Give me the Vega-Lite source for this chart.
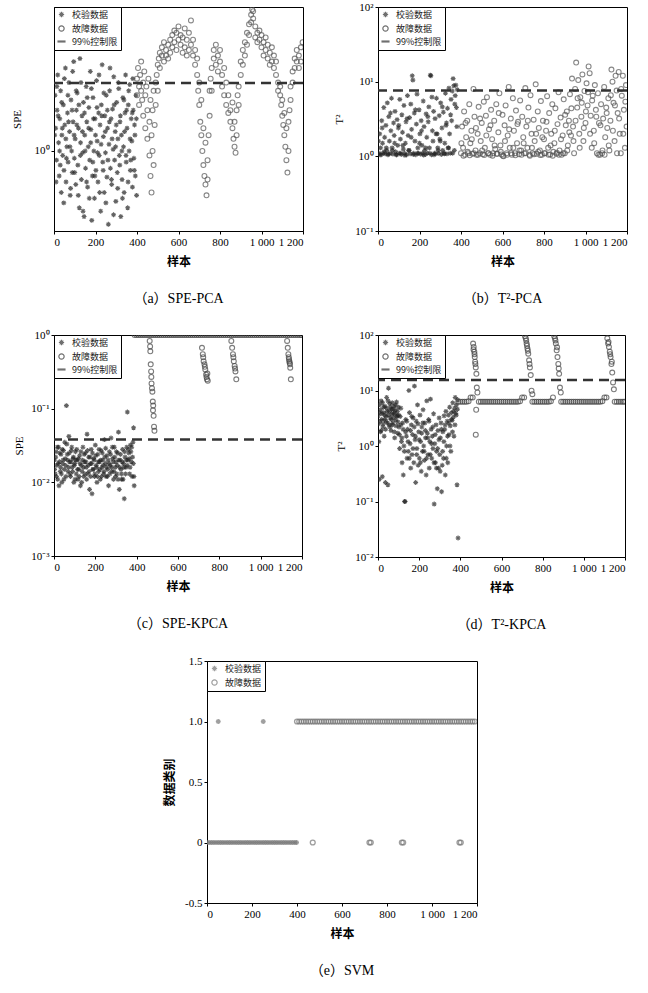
{
"$schema":"https://vega.github.io/schema/vega-lite/v6.json",
"background":"white",
"padding":{"left":10,"top":0,"right":4,"bottom":4},
"config":{
 "view":{"stroke":"black","strokeWidth":1},
 "axis":{"grid":false,"domainColor":"black","tickColor":"black","labelColor":"black","titleColor":"black","labelFont":"Liberation Serif","labelFontSize":11,"tickSize":3,"labelPadding":2,"titleFont":"Noto Sans CJK SC","titleFontSize":12,"titleFontWeight":"bold","titlePadding":9},
 "legend":{"orient":"top-left","offset":0,"padding":3,"strokeColor":"black","fillColor":"white","labelFont":"Noto Sans CJK SC","labelFontSize":9,"labelColor":"#222","symbolSize":28,"symbolStrokeColor":"#333","symbolFillColor":"transparent","symbolStrokeWidth":1.2,"rowPadding":3,"labelOffset":6},
 "title":{"font":"Liberation Serif, Noto Sans CJK SC","fontSize":14,"fontWeight":"normal","orient":"bottom","offset":25,"color":"black"}
},
"datasets":{
"a":[
{"x":5,"y":1.9,"s":"v"},{"x":8,"y":1.3,"s":"v"},{"x":12,"y":0.9,"s":"v"},{"x":15,"y":1.6,"s":"v"},{"x":18,"y":2.4,"s":"v"},{"x":22,"y":1.1,"s":"v"},{"x":25,"y":0.75,"s":"v"},{"x":28,"y":1.45,"s":"v"},{"x":32,"y":2.0,"s":"v"},{"x":35,"y":0.62,"s":"v"},{"x":38,"y":1.2,"s":"v"},{"x":42,"y":0.95,"s":"v"},{"x":45,"y":1.7,"s":"v"},{"x":48,"y":0.8,"s":"v"},{"x":52,"y":1.35,"s":"v"},{"x":55,"y":2.6,"s":"v"},{"x":58,"y":0.7,"s":"v"},{"x":62,"y":1.05,"s":"v"},{"x":65,"y":1.55,"s":"v"},{"x":68,"y":0.88,"s":"v"},{"x":72,"y":2.2,"s":"v"},{"x":75,"y":1.25,"s":"v"},{"x":78,"y":0.6,"s":"v"},{"x":82,"y":1.8,"s":"v"},{"x":85,"y":1.0,"s":"v"},{"x":88,"y":0.78,"s":"v"},{"x":92,"y":1.4,"s":"v"},{"x":95,"y":2.8,"s":"v"},{"x":98,"y":0.92,"s":"v"},{"x":102,"y":1.15,"s":"v"},{"x":105,"y":0.68,"s":"v"},{"x":108,"y":1.6,"s":"v"},{"x":112,"y":1.95,"s":"v"},{"x":115,"y":0.85,"s":"v"},{"x":118,"y":1.3,"s":"v"},{"x":122,"y":0.52,"s":"v"},{"x":125,"y":2.9,"s":"v"},{"x":128,"y":1.1,"s":"v"},{"x":132,"y":0.72,"s":"v"},{"x":135,"y":1.5,"s":"v"},{"x":138,"y":0.98,"s":"v"},{"x":142,"y":1.75,"s":"v"},{"x":145,"y":0.47,"s":"v"},{"x":148,"y":1.2,"s":"v"},{"x":152,"y":0.82,"s":"v"},{"x":155,"y":2.1,"s":"v"},{"x":158,"y":1.4,"s":"v"},{"x":162,"y":0.66,"s":"v"},{"x":165,"y":1.05,"s":"v"},{"x":168,"y":1.65,"s":"v"},{"x":172,"y":0.9,"s":"v"},{"x":175,"y":2.5,"s":"v"},{"x":178,"y":1.28,"s":"v"},{"x":182,"y":0.45,"s":"v"},{"x":185,"y":0.75,"s":"v"},{"x":188,"y":1.85,"s":"v"},{"x":192,"y":1.0,"s":"v"},{"x":195,"y":0.58,"s":"v"},{"x":198,"y":1.45,"s":"v"},{"x":202,"y":0.8,"s":"v"},{"x":205,"y":2.25,"s":"v"},{"x":208,"y":1.12,"s":"v"},{"x":212,"y":0.7,"s":"v"},{"x":215,"y":1.55,"s":"v"},{"x":218,"y":0.95,"s":"v"},{"x":222,"y":1.35,"s":"v"},{"x":225,"y":0.5,"s":"v"},{"x":228,"y":1.7,"s":"v"},{"x":232,"y":2.7,"s":"v"},{"x":235,"y":0.88,"s":"v"},{"x":238,"y":1.18,"s":"v"},{"x":242,"y":0.62,"s":"v"},{"x":245,"y":1.5,"s":"v"},{"x":248,"y":0.98,"s":"v"},{"x":252,"y":1.9,"s":"v"},{"x":255,"y":0.74,"s":"v"},{"x":258,"y":1.3,"s":"v"},{"x":262,"y":0.43,"s":"v"},{"x":265,"y":1.08,"s":"v"},{"x":268,"y":2.0,"s":"v"},{"x":272,"y":0.82,"s":"v"},{"x":275,"y":1.45,"s":"v"},{"x":278,"y":0.68,"s":"v"},{"x":282,"y":1.62,"s":"v"},{"x":285,"y":1.02,"s":"v"},{"x":288,"y":2.35,"s":"v"},{"x":292,"y":0.9,"s":"v"},{"x":295,"y":1.25,"s":"v"},{"x":298,"y":0.56,"s":"v"},{"x":302,"y":1.75,"s":"v"},{"x":305,"y":0.78,"s":"v"},{"x":308,"y":1.15,"s":"v"},{"x":312,"y":2.05,"s":"v"},{"x":315,"y":0.95,"s":"v"},{"x":318,"y":1.4,"s":"v"},{"x":322,"y":0.47,"s":"v"},{"x":325,"y":1.2,"s":"v"},{"x":328,"y":0.72,"s":"v"},{"x":332,"y":1.85,"s":"v"},{"x":335,"y":1.05,"s":"v"},{"x":338,"y":0.62,"s":"v"},{"x":342,"y":1.55,"s":"v"},{"x":345,"y":2.4,"s":"v"},{"x":348,"y":0.88,"s":"v"},{"x":352,"y":1.3,"s":"v"},{"x":355,"y":0.52,"s":"v"},{"x":358,"y":1.7,"s":"v"},{"x":362,"y":1.0,"s":"v"},{"x":365,"y":2.15,"s":"v"},{"x":368,"y":0.8,"s":"v"},{"x":372,"y":1.45,"s":"v"},{"x":375,"y":1.12,"s":"v"},{"x":378,"y":0.66,"s":"v"},{"x":382,"y":1.6,"s":"v"},{"x":385,"y":0.92,"s":"v"},{"x":388,"y":1.35,"s":"v"},{"x":392,"y":0.75,"s":"v"},{"x":395,"y":1.9,"s":"v"},{"x":398,"y":0.6,"s":"v"},
{"x":3,"y":1.2,"s":"v"},{"x":10,"y":0.7,"s":"v"},{"x":14,"y":2.1,"s":"v"},{"x":20,"y":1.5,"s":"v"},{"x":27,"y":1.0,"s":"v"},{"x":30,"y":0.85,"s":"v"},{"x":37,"y":1.75,"s":"v"},{"x":40,"y":1.3,"s":"v"},{"x":47,"y":0.55,"s":"v"},{"x":50,"y":2.3,"s":"v"},{"x":57,"y":1.15,"s":"v"},{"x":60,"y":0.92,"s":"v"},{"x":67,"y":1.9,"s":"v"},{"x":70,"y":1.4,"s":"v"},{"x":77,"y":1.05,"s":"v"},{"x":80,"y":0.65,"s":"v"},{"x":87,"y":1.6,"s":"v"},{"x":90,"y":2.5,"s":"v"},{"x":97,"y":1.2,"s":"v"},{"x":100,"y":0.78,"s":"v"},{"x":107,"y":2.0,"s":"v"},{"x":110,"y":1.35,"s":"v"},{"x":117,"y":0.6,"s":"v"},{"x":120,"y":1.7,"s":"v"},{"x":127,"y":0.95,"s":"v"},{"x":130,"y":2.2,"s":"v"},{"x":137,"y":1.25,"s":"v"},{"x":140,"y":0.5,"s":"v"},{"x":147,"y":1.55,"s":"v"},{"x":150,"y":1.0,"s":"v"},{"x":157,"y":0.7,"s":"v"},{"x":160,"y":1.85,"s":"v"},{"x":167,"y":1.3,"s":"v"},{"x":170,"y":0.58,"s":"v"},{"x":177,"y":1.1,"s":"v"},{"x":180,"y":2.05,"s":"v"},{"x":187,"y":0.88,"s":"v"},{"x":190,"y":1.45,"s":"v"},{"x":197,"y":0.75,"s":"v"},{"x":200,"y":1.2,"s":"v"},{"x":207,"y":1.65,"s":"v"},{"x":210,"y":0.98,"s":"v"},{"x":217,"y":2.4,"s":"v"},{"x":220,"y":0.62,"s":"v"},{"x":227,"y":1.08,"s":"v"},{"x":230,"y":1.5,"s":"v"},{"x":237,"y":0.8,"s":"v"},{"x":240,"y":1.95,"s":"v"},{"x":247,"y":1.25,"s":"v"},{"x":250,"y":0.55,"s":"v"},{"x":257,"y":1.6,"s":"v"},{"x":260,"y":0.9,"s":"v"},{"x":267,"y":1.4,"s":"v"},{"x":270,"y":2.6,"s":"v"},{"x":277,"y":0.72,"s":"v"},{"x":280,"y":1.15,"s":"v"},{"x":287,"y":0.48,"s":"v"},{"x":290,"y":1.7,"s":"v"},{"x":297,"y":1.05,"s":"v"},{"x":300,"y":1.35,"s":"v"},{"x":307,"y":0.65,"s":"v"},{"x":310,"y":2.2,"s":"v"},{"x":317,"y":0.85,"s":"v"},{"x":320,"y":1.5,"s":"v"},{"x":327,"y":1.0,"s":"v"},{"x":330,"y":0.58,"s":"v"},{"x":337,"y":1.8,"s":"v"},{"x":340,"y":1.25,"s":"v"},{"x":347,"y":0.95,"s":"v"},{"x":350,"y":1.6,"s":"v"},{"x":357,"y":0.7,"s":"v"},{"x":360,"y":2.0,"s":"v"},{"x":367,"y":1.15,"s":"v"},{"x":370,"y":0.9,"s":"v"},{"x":377,"y":1.55,"s":"v"},{"x":380,"y":2.3,"s":"v"},{"x":387,"y":0.8,"s":"v"},{"x":390,"y":1.2,"s":"v"},{"x":397,"y":1.45,"s":"v"},
{"x":400,"y":2.3,"s":"f"},{"x":400,"y":1.9,"s":"f"},{"x":405,"y":2.6,"s":"f"},{"x":410,"y":2.1,"s":"f"},{"x":410,"y":1.7,"s":"f"},{"x":415,"y":2.4,"s":"f"},{"x":420,"y":2.0,"s":"f"},{"x":420,"y":2.8,"s":"f"},{"x":425,"y":1.8,"s":"f"},{"x":430,"y":2.2,"s":"f"},{"x":430,"y":1.5,"s":"f"},{"x":435,"y":2.5,"s":"f"},{"x":440,"y":1.9,"s":"f"},{"x":440,"y":1.3,"s":"f"},{"x":445,"y":2.1,"s":"f"},{"x":450,"y":1.6,"s":"f"},{"x":450,"y":1.15,"s":"f"},{"x":455,"y":2.3,"s":"f"},{"x":460,"y":1.4,"s":"f"},{"x":460,"y":0.95,"s":"f"},{"x":465,"y":1.8,"s":"f"},{"x":465,"y":0.75,"s":"f"},{"x":470,"y":1.2,"s":"f"},{"x":470,"y":0.62,"s":"f"},{"x":475,"y":1.0,"s":"f"},{"x":475,"y":1.6,"s":"f"},{"x":480,"y":2.0,"s":"f"},{"x":480,"y":0.85,"s":"f"},{"x":485,"y":1.35,"s":"f"},{"x":490,"y":1.7,"s":"f"},{"x":490,"y":2.2,"s":"f"},{"x":495,"y":2.4,"s":"f"},{"x":500,"y":2.0,"s":"f"},{"x":500,"y":2.7,"s":"f"},{"x":505,"y":2.9,"s":"f"},{"x":510,"y":2.6,"s":"f"},{"x":510,"y":3.1,"s":"f"},{"x":520,"y":3.0,"s":"f"},{"x":520,"y":3.3,"s":"f"},{"x":530,"y":2.8,"s":"f"},{"x":530,"y":3.5,"s":"f"},{"x":540,"y":3.2,"s":"f"},{"x":540,"y":3.0,"s":"f"},{"x":550,"y":3.4,"s":"f"},{"x":550,"y":2.9,"s":"f"},{"x":560,"y":3.1,"s":"f"},{"x":560,"y":3.6,"s":"f"},{"x":570,"y":3.8,"s":"f"},{"x":570,"y":3.3,"s":"f"},{"x":580,"y":3.5,"s":"f"},{"x":580,"y":4.0,"s":"f"},{"x":590,"y":3.9,"s":"f"},{"x":590,"y":3.2,"s":"f"},{"x":600,"y":4.2,"s":"f"},{"x":600,"y":3.6,"s":"f"},{"x":610,"y":3.4,"s":"f"},{"x":610,"y":3.8,"s":"f"},{"x":620,"y":3.7,"s":"f"},{"x":620,"y":3.1,"s":"f"},{"x":630,"y":3.3,"s":"f"},{"x":630,"y":4.1,"s":"f"},{"x":640,"y":3.6,"s":"f"},{"x":640,"y":3.0,"s":"f"},{"x":650,"y":3.2,"s":"f"},{"x":650,"y":3.9,"s":"f"},{"x":660,"y":4.5,"s":"f"},{"x":660,"y":3.4,"s":"f"},{"x":670,"y":3.0,"s":"f"},{"x":670,"y":3.6,"s":"f"},{"x":680,"y":2.7,"s":"f"},{"x":680,"y":3.2,"s":"f"},{"x":690,"y":2.4,"s":"f"},{"x":690,"y":2.9,"s":"f"},{"x":695,"y":2.0,"s":"f"},{"x":700,"y":1.7,"s":"f"},{"x":700,"y":2.2,"s":"f"},{"x":705,"y":1.4,"s":"f"},{"x":710,"y":1.2,"s":"f"},{"x":710,"y":1.8,"s":"f"},{"x":715,"y":1.0,"s":"f"},{"x":720,"y":0.85,"s":"f"},{"x":720,"y":1.3,"s":"f"},{"x":725,"y":0.75,"s":"f"},{"x":730,"y":0.68,"s":"f"},{"x":730,"y":1.1,"s":"f"},{"x":735,"y":0.6,"s":"f"},{"x":740,"y":0.72,"s":"f"},{"x":740,"y":0.9,"s":"f"},{"x":745,"y":1.2,"s":"f"},{"x":750,"y":1.5,"s":"f"},{"x":750,"y":2.0,"s":"f"},{"x":755,"y":2.3,"s":"f"},{"x":760,"y":2.6,"s":"f"},{"x":760,"y":2.0,"s":"f"},{"x":770,"y":2.9,"s":"f"},{"x":770,"y":3.2,"s":"f"},{"x":780,"y":2.7,"s":"f"},{"x":780,"y":3.4,"s":"f"},{"x":790,"y":3.0,"s":"f"},{"x":790,"y":2.5,"s":"f"},{"x":800,"y":2.8,"s":"f"},{"x":800,"y":3.2,"s":"f"},{"x":810,"y":2.4,"s":"f"},{"x":810,"y":2.1,"s":"f"},{"x":820,"y":2.6,"s":"f"},{"x":820,"y":1.9,"s":"f"},{"x":830,"y":2.2,"s":"f"},{"x":830,"y":1.7,"s":"f"},{"x":840,"y":1.9,"s":"f"},{"x":840,"y":1.55,"s":"f"},{"x":850,"y":1.6,"s":"f"},{"x":850,"y":1.4,"s":"f"},{"x":860,"y":1.3,"s":"f"},{"x":860,"y":1.75,"s":"f"},{"x":865,"y":1.15,"s":"f"},{"x":870,"y":1.05,"s":"f"},{"x":870,"y":1.4,"s":"f"},{"x":875,"y":0.98,"s":"f"},{"x":880,"y":1.2,"s":"f"},{"x":880,"y":1.6,"s":"f"},{"x":885,"y":1.9,"s":"f"},{"x":890,"y":2.1,"s":"f"},{"x":890,"y":1.7,"s":"f"},{"x":900,"y":2.4,"s":"f"},{"x":900,"y":2.8,"s":"f"},{"x":910,"y":2.7,"s":"f"},{"x":910,"y":3.2,"s":"f"},{"x":920,"y":3.0,"s":"f"},{"x":920,"y":3.5,"s":"f"},{"x":930,"y":3.4,"s":"f"},{"x":930,"y":3.9,"s":"f"},{"x":940,"y":4.3,"s":"f"},{"x":940,"y":3.8,"s":"f"},{"x":950,"y":4.8,"s":"f"},{"x":950,"y":4.4,"s":"f"},{"x":955,"y":5.1,"s":"f"},{"x":960,"y":4.6,"s":"f"},{"x":960,"y":5.0,"s":"f"},{"x":970,"y":4.2,"s":"f"},{"x":970,"y":3.7,"s":"f"},{"x":980,"y":3.9,"s":"f"},{"x":980,"y":3.5,"s":"f"},{"x":990,"y":3.6,"s":"f"},{"x":990,"y":4.0,"s":"f"},{"x":1000,"y":3.3,"s":"f"},{"x":1000,"y":3.8,"s":"f"},{"x":1010,"y":3.5,"s":"f"},{"x":1010,"y":3.0,"s":"f"},{"x":1020,"y":3.2,"s":"f"},{"x":1020,"y":3.7,"s":"f"},{"x":1030,"y":2.9,"s":"f"},{"x":1030,"y":3.4,"s":"f"},{"x":1040,"y":3.1,"s":"f"},{"x":1040,"y":2.7,"s":"f"},{"x":1050,"y":2.8,"s":"f"},{"x":1050,"y":3.3,"s":"f"},{"x":1060,"y":2.6,"s":"f"},{"x":1060,"y":3.0,"s":"f"},{"x":1070,"y":2.4,"s":"f"},{"x":1070,"y":2.8,"s":"f"},{"x":1080,"y":2.2,"s":"f"},{"x":1080,"y":2.0,"s":"f"},{"x":1090,"y":1.9,"s":"f"},{"x":1090,"y":2.1,"s":"f"},{"x":1095,"y":1.7,"s":"f"},{"x":1100,"y":1.5,"s":"f"},{"x":1100,"y":1.8,"s":"f"},{"x":1105,"y":1.35,"s":"f"},{"x":1110,"y":1.2,"s":"f"},{"x":1110,"y":1.55,"s":"f"},{"x":1115,"y":1.05,"s":"f"},{"x":1120,"y":0.9,"s":"f"},{"x":1120,"y":1.3,"s":"f"},{"x":1125,"y":0.78,"s":"f"},{"x":1130,"y":1.0,"s":"f"},{"x":1130,"y":1.4,"s":"f"},{"x":1135,"y":1.6,"s":"f"},{"x":1140,"y":1.8,"s":"f"},{"x":1140,"y":2.1,"s":"f"},{"x":1150,"y":2.2,"s":"f"},{"x":1150,"y":2.5,"s":"f"},{"x":1160,"y":2.6,"s":"f"},{"x":1160,"y":2.9,"s":"f"},{"x":1170,"y":2.8,"s":"f"},{"x":1170,"y":3.2,"s":"f"},{"x":1180,"y":3.0,"s":"f"},{"x":1180,"y":2.6,"s":"f"},{"x":1190,"y":3.3,"s":"f"},{"x":1190,"y":2.8,"s":"f"},{"x":1198,"y":3.5,"s":"f"}
],
"b":[
{"x":5,"y":1.1,"s":"v"},{"x":8,"y":2.0,"s":"v"},{"x":12,"y":1.3,"s":"v"},{"x":15,"y":1.05,"s":"v"},{"x":18,"y":3.0,"s":"v"},{"x":22,"y":1.5,"s":"v"},{"x":25,"y":1.1,"s":"v"},{"x":28,"y":4.5,"s":"v"},{"x":32,"y":1.8,"s":"v"},{"x":35,"y":1.08,"s":"v"},{"x":38,"y":2.6,"s":"v"},{"x":42,"y":1.2,"s":"v"},{"x":45,"y":5.2,"s":"v"},{"x":48,"y":1.05,"s":"v"},{"x":52,"y":3.4,"s":"v"},{"x":55,"y":1.6,"s":"v"},{"x":58,"y":1.1,"s":"v"},{"x":62,"y":2.2,"s":"v"},{"x":65,"y":6.0,"s":"v"},{"x":68,"y":1.3,"s":"v"},{"x":72,"y":1.07,"s":"v"},{"x":75,"y":2.8,"s":"v"},{"x":78,"y":1.9,"s":"v"},{"x":82,"y":4.0,"s":"v"},{"x":85,"y":1.15,"s":"v"},{"x":88,"y":1.05,"s":"v"},{"x":92,"y":3.1,"s":"v"},{"x":95,"y":1.4,"s":"v"},{"x":98,"y":2.4,"s":"v"},{"x":102,"y":1.1,"s":"v"},{"x":105,"y":5.8,"s":"v"},{"x":108,"y":1.7,"s":"v"},{"x":112,"y":1.06,"s":"v"},{"x":115,"y":3.6,"s":"v"},{"x":118,"y":2.1,"s":"v"},{"x":122,"y":1.25,"s":"v"},{"x":125,"y":4.8,"s":"v"},{"x":128,"y":1.1,"s":"v"},{"x":132,"y":1.5,"s":"v"},{"x":135,"y":2.9,"s":"v"},{"x":138,"y":1.05,"s":"v"},{"x":142,"y":6.5,"s":"v"},{"x":145,"y":1.9,"s":"v"},{"x":148,"y":1.2,"s":"v"},{"x":152,"y":3.3,"s":"v"},{"x":155,"y":1.08,"s":"v"},{"x":158,"y":5.0,"s":"v"},{"x":162,"y":2.3,"s":"v"},{"x":165,"y":12.0,"s":"v"},{"x":168,"y":10.5,"s":"v"},{"x":172,"y":1.1,"s":"v"},{"x":175,"y":3.8,"s":"v"},{"x":178,"y":1.6,"s":"v"},{"x":182,"y":1.05,"s":"v"},{"x":185,"y":2.7,"s":"v"},{"x":188,"y":6.8,"s":"v"},{"x":192,"y":1.3,"s":"v"},{"x":195,"y":1.1,"s":"v"},{"x":198,"y":4.2,"s":"v"},{"x":202,"y":2.0,"s":"v"},{"x":205,"y":1.07,"s":"v"},{"x":208,"y":3.0,"s":"v"},{"x":212,"y":1.4,"s":"v"},{"x":215,"y":1.1,"s":"v"},{"x":218,"y":5.5,"s":"v"},{"x":222,"y":2.5,"s":"v"},{"x":225,"y":1.2,"s":"v"},{"x":228,"y":1.06,"s":"v"},{"x":232,"y":3.7,"s":"v"},{"x":235,"y":1.8,"s":"v"},{"x":238,"y":1.1,"s":"v"},{"x":242,"y":2.9,"s":"v"},{"x":245,"y":4.6,"s":"v"},{"x":248,"y":1.3,"s":"v"},{"x":252,"y":12.2,"s":"v"},{"x":255,"y":12.0,"s":"v"},{"x":258,"y":1.05,"s":"v"},{"x":262,"y":2.2,"s":"v"},{"x":265,"y":1.6,"s":"v"},{"x":268,"y":4.0,"s":"v"},{"x":272,"y":1.1,"s":"v"},{"x":275,"y":3.2,"s":"v"},{"x":278,"y":1.08,"s":"v"},{"x":282,"y":6.0,"s":"v"},{"x":285,"y":2.0,"s":"v"},{"x":288,"y":1.3,"s":"v"},{"x":292,"y":1.1,"s":"v"},{"x":295,"y":3.5,"s":"v"},{"x":298,"y":1.7,"s":"v"},{"x":302,"y":5.2,"s":"v"},{"x":305,"y":1.06,"s":"v"},{"x":308,"y":2.4,"s":"v"},{"x":312,"y":1.2,"s":"v"},{"x":315,"y":3.9,"s":"v"},{"x":318,"y":1.1,"s":"v"},{"x":322,"y":1.5,"s":"v"},{"x":325,"y":7.0,"s":"v"},{"x":328,"y":2.6,"s":"v"},{"x":332,"y":1.08,"s":"v"},{"x":335,"y":4.4,"s":"v"},{"x":338,"y":1.3,"s":"v"},{"x":342,"y":8.2,"s":"v"},{"x":345,"y":2.0,"s":"v"},{"x":348,"y":1.1,"s":"v"},{"x":352,"y":5.8,"s":"v"},{"x":355,"y":3.0,"s":"v"},{"x":358,"y":7.5,"s":"v"},{"x":362,"y":11.0,"s":"v"},{"x":365,"y":8.8,"s":"v"},{"x":368,"y":1.2,"s":"v"},{"x":372,"y":6.5,"s":"v"},{"x":375,"y":9.0,"s":"v"},{"x":378,"y":4.5,"s":"v"},{"x":382,"y":7.8,"s":"v"},
{"x":2,"y":1.6,"s":"v"},{"x":10,"y":1.05,"s":"v"},{"x":20,"y":2.4,"s":"v"},{"x":30,"y":1.15,"s":"v"},{"x":40,"y":1.3,"s":"v"},{"x":50,"y":1.07,"s":"v"},{"x":60,"y":3.8,"s":"v"},{"x":70,"y":1.2,"s":"v"},{"x":80,"y":1.5,"s":"v"},{"x":90,"y":1.05,"s":"v"},{"x":100,"y":2.6,"s":"v"},{"x":110,"y":1.1,"s":"v"},{"x":120,"y":1.4,"s":"v"},{"x":130,"y":1.03,"s":"v"},{"x":140,"y":3.2,"s":"v"},{"x":150,"y":1.2,"s":"v"},{"x":160,"y":1.8,"s":"v"},{"x":170,"y":1.06,"s":"v"},{"x":180,"y":4.2,"s":"v"},{"x":190,"y":1.1,"s":"v"},{"x":200,"y":1.5,"s":"v"},{"x":210,"y":2.2,"s":"v"},{"x":220,"y":1.04,"s":"v"},{"x":230,"y":1.3,"s":"v"},{"x":240,"y":3.4,"s":"v"},{"x":250,"y":1.1,"s":"v"},{"x":260,"y":6.2,"s":"v"},{"x":270,"y":1.05,"s":"v"},{"x":280,"y":2.0,"s":"v"},{"x":290,"y":1.2,"s":"v"},{"x":300,"y":1.6,"s":"v"},{"x":310,"y":4.6,"s":"v"},{"x":320,"y":1.08,"s":"v"},{"x":330,"y":2.8,"s":"v"},{"x":340,"y":1.3,"s":"v"},{"x":350,"y":3.6,"s":"v"},{"x":360,"y":1.1,"s":"v"},{"x":370,"y":5.0,"s":"v"},{"x":380,"y":2.5,"s":"v"},
{"x":400,"y":1.1,"s":"f"},{"x":405,"y":2.5,"s":"f"},{"x":410,"y":1.3,"s":"f"},{"x":415,"y":4.0,"s":"f"},{"x":420,"y":1.05,"s":"f"},{"x":425,"y":1.8,"s":"f"},{"x":430,"y":3.0,"s":"f"},{"x":435,"y":1.1,"s":"f"},{"x":440,"y":5.0,"s":"f"},{"x":445,"y":1.5,"s":"f"},{"x":450,"y":2.2,"s":"f"},{"x":455,"y":1.08,"s":"f"},{"x":460,"y":8.0,"s":"f"},{"x":465,"y":3.4,"s":"f"},{"x":470,"y":1.2,"s":"f"},{"x":475,"y":1.05,"s":"f"},{"x":480,"y":2.0,"s":"f"},{"x":485,"y":4.6,"s":"f"},{"x":490,"y":1.1,"s":"f"},{"x":495,"y":1.6,"s":"f"},{"x":500,"y":2.8,"s":"f"},{"x":505,"y":1.07,"s":"f"},{"x":510,"y":5.4,"s":"f"},{"x":515,"y":1.3,"s":"f"},{"x":520,"y":3.5,"s":"f"},{"x":525,"y":6.2,"s":"f"},{"x":530,"y":1.1,"s":"f"},{"x":535,"y":2.3,"s":"f"},{"x":540,"y":1.05,"s":"f"},{"x":545,"y":4.2,"s":"f"},{"x":550,"y":1.7,"s":"f"},{"x":555,"y":1.1,"s":"f"},{"x":560,"y":3.0,"s":"f"},{"x":565,"y":1.25,"s":"f"},{"x":570,"y":5.0,"s":"f"},{"x":575,"y":1.08,"s":"f"},{"x":580,"y":2.1,"s":"f"},{"x":585,"y":7.0,"s":"f"},{"x":590,"y":1.4,"s":"f"},{"x":595,"y":1.06,"s":"f"},{"x":600,"y":3.6,"s":"f"},{"x":605,"y":1.0,"s":"f"},{"x":610,"y":2.6,"s":"f"},{"x":615,"y":4.8,"s":"f"},{"x":620,"y":1.1,"s":"f"},{"x":625,"y":1.9,"s":"f"},{"x":630,"y":8.5,"s":"f"},{"x":635,"y":1.3,"s":"f"},{"x":640,"y":3.2,"s":"f"},{"x":645,"y":1.05,"s":"f"},{"x":650,"y":6.0,"s":"f"},{"x":655,"y":2.2,"s":"f"},{"x":660,"y":1.1,"s":"f"},{"x":665,"y":4.1,"s":"f"},{"x":670,"y":1.5,"s":"f"},{"x":675,"y":2.9,"s":"f"},{"x":680,"y":1.07,"s":"f"},{"x":685,"y":5.6,"s":"f"},{"x":690,"y":1.2,"s":"f"},{"x":695,"y":3.4,"s":"f"},{"x":700,"y":1.8,"s":"f"},{"x":705,"y":1.1,"s":"f"},{"x":710,"y":8.2,"s":"f"},{"x":715,"y":2.5,"s":"f"},{"x":720,"y":1.3,"s":"f"},{"x":725,"y":4.5,"s":"f"},{"x":730,"y":1.05,"s":"f"},{"x":735,"y":6.6,"s":"f"},{"x":740,"y":2.0,"s":"f"},{"x":745,"y":1.1,"s":"f"},{"x":750,"y":3.1,"s":"f"},{"x":755,"y":1.6,"s":"f"},{"x":760,"y":9.2,"s":"f"},{"x":765,"y":1.08,"s":"f"},{"x":770,"y":4.0,"s":"f"},{"x":775,"y":2.4,"s":"f"},{"x":780,"y":1.2,"s":"f"},{"x":785,"y":5.5,"s":"f"},{"x":790,"y":1.05,"s":"f"},{"x":795,"y":3.0,"s":"f"},{"x":800,"y":1.7,"s":"f"},{"x":805,"y":1.1,"s":"f"},{"x":810,"y":2.2,"s":"f"},{"x":815,"y":6.4,"s":"f"},{"x":820,"y":1.3,"s":"f"},{"x":825,"y":3.8,"s":"f"},{"x":830,"y":1.06,"s":"f"},{"x":835,"y":2.0,"s":"f"},{"x":840,"y":5.0,"s":"f"},{"x":845,"y":1.15,"s":"f"},{"x":850,"y":1.5,"s":"f"},{"x":855,"y":4.4,"s":"f"},{"x":860,"y":1.08,"s":"f"},{"x":865,"y":2.7,"s":"f"},{"x":870,"y":7.2,"s":"f"},{"x":875,"y":1.2,"s":"f"},{"x":880,"y":3.3,"s":"f"},{"x":885,"y":1.05,"s":"f"},{"x":890,"y":1.9,"s":"f"},{"x":895,"y":5.8,"s":"f"},{"x":900,"y":1.1,"s":"f"},{"x":905,"y":2.6,"s":"f"},{"x":910,"y":4.0,"s":"f"},{"x":915,"y":1.4,"s":"f"},{"x":920,"y":3.0,"s":"f"},{"x":925,"y":6.8,"s":"f"},{"x":930,"y":1.9,"s":"f"},{"x":935,"y":11.0,"s":"f"},{"x":940,"y":2.5,"s":"f"},{"x":945,"y":1.1,"s":"f"},{"x":950,"y":8.0,"s":"f"},{"x":955,"y":18.0,"s":"f"},{"x":960,"y":4.5,"s":"f"},{"x":965,"y":10.5,"s":"f"},{"x":970,"y":2.0,"s":"f"},{"x":975,"y":6.2,"s":"f"},{"x":980,"y":3.4,"s":"f"},{"x":985,"y":12.5,"s":"f"},{"x":990,"y":1.6,"s":"f"},{"x":995,"y":7.5,"s":"f"},{"x":1000,"y":2.8,"s":"f"},{"x":1005,"y":9.5,"s":"f"},{"x":1010,"y":4.8,"s":"f"},{"x":1015,"y":16.0,"s":"f"},{"x":1020,"y":13.0,"s":"f"},{"x":1025,"y":3.5,"s":"f"},{"x":1030,"y":1.3,"s":"f"},{"x":1035,"y":6.5,"s":"f"},{"x":1040,"y":2.2,"s":"f"},{"x":1045,"y":9.0,"s":"f"},{"x":1050,"y":4.2,"s":"f"},{"x":1055,"y":1.1,"s":"f"},{"x":1060,"y":7.0,"s":"f"},{"x":1065,"y":2.8,"s":"f"},{"x":1070,"y":1.05,"s":"f"},{"x":1075,"y":5.0,"s":"f"},{"x":1080,"y":1.1,"s":"f"},{"x":1085,"y":3.2,"s":"f"},{"x":1090,"y":8.5,"s":"f"},{"x":1095,"y":1.8,"s":"f"},{"x":1100,"y":4.5,"s":"f"},{"x":1105,"y":2.4,"s":"f"},{"x":1110,"y":6.0,"s":"f"},{"x":1115,"y":1.2,"s":"f"},{"x":1120,"y":3.0,"s":"f"},{"x":1125,"y":14.5,"s":"f"},{"x":1130,"y":10.0,"s":"f"},{"x":1135,"y":5.2,"s":"f"},{"x":1140,"y":1.6,"s":"f"},{"x":1145,"y":12.0,"s":"f"},{"x":1150,"y":7.6,"s":"f"},{"x":1155,"y":3.8,"s":"f"},{"x":1160,"y":13.5,"s":"f"},{"x":1165,"y":2.0,"s":"f"},{"x":1170,"y":1.1,"s":"f"},{"x":1175,"y":6.5,"s":"f"},{"x":1180,"y":12.0,"s":"f"},{"x":1185,"y":4.2,"s":"f"},{"x":1190,"y":1.3,"s":"f"},{"x":1195,"y":9.0,"s":"f"},{"x":1198,"y":2.5,"s":"f"},
{"x":402,"y":1.5,"s":"f"},{"x":412,"y":1.02,"s":"f"},{"x":422,"y":2.8,"s":"f"},{"x":432,"y":1.15,"s":"f"},{"x":442,"y":1.03,"s":"f"},{"x":452,"y":1.7,"s":"f"},{"x":462,"y":1.1,"s":"f"},{"x":472,"y":2.4,"s":"f"},{"x":482,"y":1.05,"s":"f"},{"x":492,"y":3.2,"s":"f"},{"x":502,"y":1.2,"s":"f"},{"x":512,"y":1.04,"s":"f"},{"x":522,"y":1.9,"s":"f"},{"x":532,"y":1.1,"s":"f"},{"x":542,"y":2.6,"s":"f"},{"x":552,"y":1.02,"s":"f"},{"x":562,"y":1.4,"s":"f"},{"x":572,"y":1.08,"s":"f"},{"x":582,"y":3.8,"s":"f"},{"x":592,"y":1.15,"s":"f"},{"x":602,"y":1.02,"s":"f"},{"x":612,"y":1.6,"s":"f"},{"x":622,"y":1.05,"s":"f"},{"x":632,"y":2.3,"s":"f"},{"x":642,"y":1.1,"s":"f"},{"x":652,"y":1.3,"s":"f"},{"x":662,"y":1.03,"s":"f"},{"x":672,"y":2.7,"s":"f"},{"x":682,"y":1.2,"s":"f"},{"x":692,"y":1.05,"s":"f"},{"x":702,"y":1.5,"s":"f"},{"x":712,"y":1.1,"s":"f"},{"x":722,"y":3.0,"s":"f"},{"x":732,"y":1.02,"s":"f"},{"x":742,"y":1.3,"s":"f"},{"x":752,"y":1.07,"s":"f"},{"x":762,"y":2.0,"s":"f"},{"x":772,"y":1.15,"s":"f"},{"x":782,"y":1.04,"s":"f"},{"x":792,"y":1.8,"s":"f"},{"x":802,"y":1.1,"s":"f"},{"x":812,"y":2.9,"s":"f"},{"x":822,"y":1.05,"s":"f"},{"x":832,"y":1.4,"s":"f"},{"x":842,"y":1.02,"s":"f"},{"x":852,"y":2.2,"s":"f"},{"x":862,"y":1.12,"s":"f"},{"x":872,"y":1.05,"s":"f"},{"x":882,"y":1.7,"s":"f"},{"x":892,"y":1.1,"s":"f"},{"x":902,"y":3.6,"s":"f"},{"x":912,"y":1.2,"s":"f"},{"x":922,"y":2.1,"s":"f"},{"x":932,"y":4.4,"s":"f"},{"x":942,"y":1.6,"s":"f"},{"x":952,"y":3.0,"s":"f"},{"x":962,"y":6.0,"s":"f"},{"x":972,"y":1.3,"s":"f"},{"x":982,"y":5.2,"s":"f"},{"x":992,"y":2.4,"s":"f"},{"x":1002,"y":4.0,"s":"f"},{"x":1012,"y":7.2,"s":"f"},{"x":1022,"y":2.0,"s":"f"},{"x":1032,"y":5.6,"s":"f"},{"x":1042,"y":1.5,"s":"f"},{"x":1052,"y":3.4,"s":"f"},{"x":1062,"y":1.05,"s":"f"},{"x":1072,"y":2.6,"s":"f"},{"x":1082,"y":1.2,"s":"f"},{"x":1092,"y":1.05,"s":"f"},{"x":1102,"y":3.8,"s":"f"},{"x":1112,"y":1.4,"s":"f"},{"x":1122,"y":6.6,"s":"f"},{"x":1132,"y":2.2,"s":"f"},{"x":1142,"y":4.8,"s":"f"},{"x":1152,"y":1.1,"s":"f"},{"x":1162,"y":3.2,"s":"f"},{"x":1172,"y":8.0,"s":"f"},{"x":1182,"y":2.0,"s":"f"},{"x":1192,"y":5.4,"s":"f"}
],
"c":[
{"x":3,"y":0.015,"s":"v"},{"x":8,"y":0.022,"s":"v"},{"x":12,"y":0.012,"s":"v"},{"x":16,"y":0.03,"s":"v"},{"x":20,"y":0.018,"s":"v"},{"x":24,"y":0.009,"s":"v"},{"x":28,"y":0.025,"s":"v"},{"x":32,"y":0.016,"s":"v"},{"x":36,"y":0.013,"s":"v"},{"x":40,"y":0.028,"s":"v"},{"x":44,"y":0.02,"s":"v"},{"x":48,"y":0.011,"s":"v"},{"x":52,"y":0.035,"s":"v"},{"x":56,"y":0.017,"s":"v"},{"x":60,"y":0.11,"s":"v"},{"x":64,"y":0.024,"s":"v"},{"x":68,"y":0.014,"s":"v"},{"x":72,"y":0.042,"s":"v"},{"x":76,"y":0.019,"s":"v"},{"x":80,"y":0.012,"s":"v"},{"x":84,"y":0.027,"s":"v"},{"x":88,"y":0.016,"s":"v"},{"x":92,"y":0.021,"s":"v"},{"x":96,"y":0.01,"s":"v"},{"x":100,"y":0.018,"s":"v"},{"x":104,"y":0.026,"s":"v"},{"x":108,"y":0.013,"s":"v"},{"x":112,"y":0.02,"s":"v"},{"x":116,"y":0.011,"s":"v"},{"x":120,"y":0.015,"s":"v"},{"x":124,"y":0.023,"s":"v"},{"x":128,"y":0.009,"s":"v"},{"x":132,"y":0.017,"s":"v"},{"x":136,"y":0.014,"s":"v"},{"x":140,"y":0.03,"s":"v"},{"x":144,"y":0.012,"s":"v"},{"x":148,"y":0.019,"s":"v"},{"x":152,"y":0.025,"s":"v"},{"x":156,"y":0.016,"s":"v"},{"x":160,"y":0.045,"s":"v"},{"x":164,"y":0.013,"s":"v"},{"x":168,"y":0.022,"s":"v"},{"x":172,"y":0.008,"s":"v"},{"x":176,"y":0.018,"s":"v"},{"x":180,"y":0.028,"s":"v"},{"x":184,"y":0.007,"s":"v"},{"x":188,"y":0.015,"s":"v"},{"x":192,"y":0.021,"s":"v"},{"x":196,"y":0.012,"s":"v"},{"x":200,"y":0.032,"s":"v"},{"x":204,"y":0.017,"s":"v"},{"x":208,"y":0.01,"s":"v"},{"x":212,"y":0.024,"s":"v"},{"x":216,"y":0.014,"s":"v"},{"x":220,"y":0.019,"s":"v"},{"x":224,"y":0.011,"s":"v"},{"x":228,"y":0.027,"s":"v"},{"x":232,"y":0.016,"s":"v"},{"x":236,"y":0.02,"s":"v"},{"x":240,"y":0.013,"s":"v"},{"x":244,"y":0.038,"s":"v"},{"x":248,"y":0.018,"s":"v"},{"x":252,"y":0.012,"s":"v"},{"x":256,"y":0.023,"s":"v"},{"x":260,"y":0.015,"s":"v"},{"x":264,"y":0.009,"s":"v"},{"x":268,"y":0.026,"s":"v"},{"x":272,"y":0.017,"s":"v"},{"x":276,"y":0.04,"s":"v"},{"x":280,"y":0.014,"s":"v"},{"x":284,"y":0.021,"s":"v"},{"x":288,"y":0.011,"s":"v"},{"x":292,"y":0.03,"s":"v"},{"x":296,"y":0.016,"s":"v"},{"x":300,"y":0.019,"s":"v"},{"x":304,"y":0.013,"s":"v"},{"x":308,"y":0.025,"s":"v"},{"x":312,"y":0.048,"s":"v"},{"x":316,"y":0.008,"s":"v"},{"x":320,"y":0.02,"s":"v"},{"x":324,"y":0.015,"s":"v"},{"x":328,"y":0.011,"s":"v"},{"x":332,"y":0.028,"s":"v"},{"x":336,"y":0.018,"s":"v"},{"x":340,"y":0.006,"s":"v"},{"x":344,"y":0.022,"s":"v"},{"x":348,"y":0.016,"s":"v"},{"x":352,"y":0.03,"s":"v"},{"x":355,"y":0.09,"s":"v"},{"x":358,"y":0.02,"s":"v"},{"x":362,"y":0.025,"s":"v"},{"x":366,"y":0.013,"s":"v"},{"x":370,"y":0.032,"s":"v"},{"x":374,"y":0.019,"s":"v"},{"x":378,"y":0.012,"s":"v"},{"x":382,"y":0.035,"s":"v"},{"x":385,"y":0.055,"s":"v"},{"x":388,"y":0.009,"s":"v"},
{"x":2,"y":0.02,"s":"v"},{"x":6,"y":0.013,"s":"v"},{"x":10,"y":0.026,"s":"v"},{"x":14,"y":0.017,"s":"v"},{"x":18,"y":0.011,"s":"v"},{"x":22,"y":0.03,"s":"v"},{"x":26,"y":0.019,"s":"v"},{"x":30,"y":0.014,"s":"v"},{"x":34,"y":0.024,"s":"v"},{"x":38,"y":0.01,"s":"v"},{"x":42,"y":0.018,"s":"v"},{"x":46,"y":0.027,"s":"v"},{"x":50,"y":0.015,"s":"v"},{"x":54,"y":0.021,"s":"v"},{"x":58,"y":0.012,"s":"v"},{"x":62,"y":0.033,"s":"v"},{"x":66,"y":0.02,"s":"v"},{"x":70,"y":0.016,"s":"v"},{"x":74,"y":0.025,"s":"v"},{"x":78,"y":0.013,"s":"v"},{"x":82,"y":0.019,"s":"v"},{"x":86,"y":0.03,"s":"v"},{"x":90,"y":0.014,"s":"v"},{"x":94,"y":0.022,"s":"v"},{"x":98,"y":0.017,"s":"v"},{"x":102,"y":0.011,"s":"v"},{"x":106,"y":0.02,"s":"v"},{"x":110,"y":0.028,"s":"v"},{"x":114,"y":0.015,"s":"v"},{"x":118,"y":0.021,"s":"v"},{"x":122,"y":0.012,"s":"v"},{"x":126,"y":0.018,"s":"v"},{"x":130,"y":0.026,"s":"v"},{"x":134,"y":0.01,"s":"v"},{"x":138,"y":0.02,"s":"v"},{"x":142,"y":0.016,"s":"v"},{"x":146,"y":0.024,"s":"v"},{"x":150,"y":0.013,"s":"v"},{"x":154,"y":0.019,"s":"v"},{"x":158,"y":0.011,"s":"v"},{"x":162,"y":0.027,"s":"v"},{"x":166,"y":0.017,"s":"v"},{"x":170,"y":0.014,"s":"v"},{"x":174,"y":0.022,"s":"v"},{"x":178,"y":0.012,"s":"v"},{"x":182,"y":0.018,"s":"v"},{"x":186,"y":0.025,"s":"v"},{"x":190,"y":0.015,"s":"v"},{"x":194,"y":0.02,"s":"v"},{"x":198,"y":0.013,"s":"v"},{"x":202,"y":0.023,"s":"v"},{"x":206,"y":0.016,"s":"v"},{"x":210,"y":0.012,"s":"v"},{"x":214,"y":0.019,"s":"v"},{"x":218,"y":0.028,"s":"v"},{"x":222,"y":0.015,"s":"v"},{"x":226,"y":0.02,"s":"v"},{"x":230,"y":0.012,"s":"v"},{"x":234,"y":0.025,"s":"v"},{"x":238,"y":0.017,"s":"v"},{"x":242,"y":0.014,"s":"v"},{"x":246,"y":0.022,"s":"v"},{"x":250,"y":0.029,"s":"v"},{"x":254,"y":0.016,"s":"v"},{"x":258,"y":0.012,"s":"v"},{"x":262,"y":0.02,"s":"v"},{"x":266,"y":0.018,"s":"v"},{"x":270,"y":0.013,"s":"v"},{"x":274,"y":0.024,"s":"v"},{"x":278,"y":0.016,"s":"v"},{"x":282,"y":0.03,"s":"v"},{"x":286,"y":0.019,"s":"v"},{"x":290,"y":0.014,"s":"v"},{"x":294,"y":0.022,"s":"v"},{"x":298,"y":0.012,"s":"v"},{"x":302,"y":0.026,"s":"v"},{"x":306,"y":0.017,"s":"v"},{"x":310,"y":0.011,"s":"v"},{"x":314,"y":0.02,"s":"v"},{"x":318,"y":0.016,"s":"v"},{"x":322,"y":0.024,"s":"v"},{"x":326,"y":0.013,"s":"v"},{"x":330,"y":0.019,"s":"v"},{"x":334,"y":0.011,"s":"v"},{"x":338,"y":0.016,"s":"v"},{"x":342,"y":0.026,"s":"v"},{"x":346,"y":0.013,"s":"v"},{"x":350,"y":0.02,"s":"v"},{"x":354,"y":0.017,"s":"v"},{"x":360,"y":0.028,"s":"v"},{"x":364,"y":0.021,"s":"v"},{"x":368,"y":0.016,"s":"v"},{"x":372,"y":0.026,"s":"v"},{"x":376,"y":0.03,"s":"v"},{"x":380,"y":0.022,"s":"v"},{"x":384,"y":0.018,"s":"v"},{"x":387,"y":0.012,"s":"v"},
{"x":390,"y":1,"s":"f"},{"x":400,"y":1,"s":"f"},{"x":410,"y":1,"s":"f"},{"x":420,"y":1,"s":"f"},{"x":430,"y":1,"s":"f"},{"x":440,"y":1,"s":"f"},{"x":450,"y":1,"s":"f"},{"x":460,"y":1,"s":"f"},{"x":470,"y":1,"s":"f"},{"x":480,"y":1,"s":"f"},{"x":490,"y":1,"s":"f"},{"x":500,"y":1,"s":"f"},{"x":510,"y":1,"s":"f"},{"x":520,"y":1,"s":"f"},{"x":530,"y":1,"s":"f"},{"x":540,"y":1,"s":"f"},{"x":550,"y":1,"s":"f"},{"x":560,"y":1,"s":"f"},{"x":570,"y":1,"s":"f"},{"x":580,"y":1,"s":"f"},{"x":590,"y":1,"s":"f"},{"x":600,"y":1,"s":"f"},{"x":610,"y":1,"s":"f"},{"x":620,"y":1,"s":"f"},{"x":630,"y":1,"s":"f"},{"x":640,"y":1,"s":"f"},{"x":650,"y":1,"s":"f"},{"x":660,"y":1,"s":"f"},{"x":670,"y":1,"s":"f"},{"x":680,"y":1,"s":"f"},{"x":690,"y":1,"s":"f"},{"x":700,"y":1,"s":"f"},{"x":710,"y":1,"s":"f"},{"x":720,"y":1,"s":"f"},{"x":730,"y":1,"s":"f"},{"x":740,"y":1,"s":"f"},{"x":750,"y":1,"s":"f"},{"x":760,"y":1,"s":"f"},{"x":770,"y":1,"s":"f"},{"x":780,"y":1,"s":"f"},{"x":790,"y":1,"s":"f"},{"x":800,"y":1,"s":"f"},{"x":810,"y":1,"s":"f"},{"x":820,"y":1,"s":"f"},{"x":830,"y":1,"s":"f"},{"x":840,"y":1,"s":"f"},{"x":850,"y":1,"s":"f"},{"x":860,"y":1,"s":"f"},{"x":870,"y":1,"s":"f"},{"x":880,"y":1,"s":"f"},{"x":890,"y":1,"s":"f"},{"x":900,"y":1,"s":"f"},{"x":910,"y":1,"s":"f"},{"x":920,"y":1,"s":"f"},{"x":930,"y":1,"s":"f"},{"x":940,"y":1,"s":"f"},{"x":950,"y":1,"s":"f"},{"x":960,"y":1,"s":"f"},{"x":970,"y":1,"s":"f"},{"x":980,"y":1,"s":"f"},{"x":990,"y":1,"s":"f"},{"x":1000,"y":1,"s":"f"},{"x":1010,"y":1,"s":"f"},{"x":1020,"y":1,"s":"f"},{"x":1030,"y":1,"s":"f"},{"x":1040,"y":1,"s":"f"},{"x":1050,"y":1,"s":"f"},{"x":1060,"y":1,"s":"f"},{"x":1070,"y":1,"s":"f"},{"x":1080,"y":1,"s":"f"},{"x":1090,"y":1,"s":"f"},{"x":1100,"y":1,"s":"f"},{"x":1110,"y":1,"s":"f"},{"x":1120,"y":1,"s":"f"},{"x":1130,"y":1,"s":"f"},{"x":1140,"y":1,"s":"f"},{"x":1150,"y":1,"s":"f"},{"x":1160,"y":1,"s":"f"},{"x":1170,"y":1,"s":"f"},{"x":1180,"y":1,"s":"f"},{"x":1190,"y":1,"s":"f"},{"x":1198,"y":1,"s":"f"},
{"x":463,"y":0.83,"s":"f"},{"x":465,"y":0.7,"s":"f"},{"x":466,"y":0.6,"s":"f"},{"x":468,"y":0.4,"s":"f"},{"x":470,"y":0.32,"s":"f"},{"x":471,"y":0.27,"s":"f"},{"x":472,"y":0.22,"s":"f"},{"x":474,"y":0.19,"s":"f"},{"x":476,"y":0.17,"s":"f"},{"x":478,"y":0.125,"s":"f"},{"x":479,"y":0.095,"s":"f"},{"x":480,"y":0.11,"s":"f"},{"x":482,"y":0.08,"s":"f"},{"x":484,"y":0.057,"s":"f"},{"x":486,"y":0.05,"s":"f"},
{"x":716,"y":0.67,"s":"f"},{"x":720,"y":0.55,"s":"f"},{"x":722,"y":0.5,"s":"f"},{"x":724,"y":0.44,"s":"f"},{"x":728,"y":0.4,"s":"f"},{"x":730,"y":0.37,"s":"f"},{"x":732,"y":0.34,"s":"f"},{"x":736,"y":0.29,"s":"f"},{"x":738,"y":0.27,"s":"f"},{"x":740,"y":0.25,"s":"f"},{"x":742,"y":0.3,"s":"f"},{"x":744,"y":0.24,"s":"f"},
{"x":858,"y":0.83,"s":"f"},{"x":862,"y":0.67,"s":"f"},{"x":866,"y":0.55,"s":"f"},{"x":868,"y":0.5,"s":"f"},{"x":870,"y":0.44,"s":"f"},{"x":874,"y":0.38,"s":"f"},{"x":876,"y":0.35,"s":"f"},{"x":878,"y":0.32,"s":"f"},{"x":882,"y":0.25,"s":"f"},
{"x":1128,"y":0.83,"s":"f"},{"x":1131,"y":0.67,"s":"f"},{"x":1134,"y":0.55,"s":"f"},{"x":1136,"y":0.5,"s":"f"},{"x":1137,"y":0.47,"s":"f"},{"x":1139,"y":0.44,"s":"f"},{"x":1140,"y":0.42,"s":"f"},{"x":1142,"y":0.4,"s":"f"},{"x":1143,"y":0.36,"s":"f"},{"x":1146,"y":0.25,"s":"f"}
],
"d":[
{"x":3,"y":2.5,"s":"v"},{"x":6,"y":0.25,"s":"v"},{"x":9,"y":4.0,"s":"v"},{"x":12,"y":1.8,"s":"v"},{"x":15,"y":6.5,"s":"v"},{"x":18,"y":3.0,"s":"v"},{"x":21,"y":0.28,"s":"v"},{"x":24,"y":2.2,"s":"v"},{"x":27,"y":5.0,"s":"v"},{"x":30,"y":1.5,"s":"v"},{"x":33,"y":3.6,"s":"v"},{"x":36,"y":0.22,"s":"v"},{"x":39,"y":2.8,"s":"v"},{"x":42,"y":7.5,"s":"v"},{"x":45,"y":4.2,"s":"v"},{"x":48,"y":0.2,"s":"v"},{"x":51,"y":11.0,"s":"v"},{"x":54,"y":2.4,"s":"v"},{"x":57,"y":5.8,"s":"v"},{"x":60,"y":3.2,"s":"v"},{"x":63,"y":1.9,"s":"v"},{"x":66,"y":4.6,"s":"v"},{"x":69,"y":6.0,"s":"v"},{"x":72,"y":2.6,"s":"v"},{"x":75,"y":3.8,"s":"v"},{"x":78,"y":5.2,"s":"v"},{"x":81,"y":1.4,"s":"v"},{"x":84,"y":4.4,"s":"v"},{"x":87,"y":2.9,"s":"v"},{"x":90,"y":6.2,"s":"v"},{"x":93,"y":3.5,"s":"v"},{"x":96,"y":1.7,"s":"v"},{"x":99,"y":5.0,"s":"v"},{"x":102,"y":2.2,"s":"v"},{"x":105,"y":0.9,"s":"v"},{"x":108,"y":3.4,"s":"v"},{"x":111,"y":4.8,"s":"v"},{"x":114,"y":1.2,"s":"v"},{"x":117,"y":0.5,"s":"v"},{"x":120,"y":2.6,"s":"v"},{"x":123,"y":0.3,"s":"v"},{"x":126,"y":1.0,"s":"v"},{"x":129,"y":0.1,"s":"v"},{"x":132,"y":0.1,"s":"v"},{"x":135,"y":3.0,"s":"v"},{"x":138,"y":1.5,"s":"v"},{"x":141,"y":0.6,"s":"v"},{"x":144,"y":2.0,"s":"v"},{"x":147,"y":0.8,"s":"v"},{"x":150,"y":10.0,"s":"v"},{"x":153,"y":4.0,"s":"v"},{"x":156,"y":1.1,"s":"v"},{"x":159,"y":0.4,"s":"v"},{"x":162,"y":2.4,"s":"v"},{"x":165,"y":0.7,"s":"v"},{"x":168,"y":1.6,"s":"v"},{"x":171,"y":3.2,"s":"v"},{"x":174,"y":0.5,"s":"v"},{"x":177,"y":12.0,"s":"v"},{"x":180,"y":1.3,"s":"v"},{"x":183,"y":0.22,"s":"v"},{"x":186,"y":2.8,"s":"v"},{"x":189,"y":0.9,"s":"v"},{"x":192,"y":5.5,"s":"v"},{"x":195,"y":0.45,"s":"v"},{"x":198,"y":1.8,"s":"v"},{"x":201,"y":0.6,"s":"v"},{"x":204,"y":3.6,"s":"v"},{"x":207,"y":1.2,"s":"v"},{"x":210,"y":0.35,"s":"v"},{"x":213,"y":2.2,"s":"v"},{"x":216,"y":0.8,"s":"v"},{"x":219,"y":4.5,"s":"v"},{"x":222,"y":1.0,"s":"v"},{"x":225,"y":0.55,"s":"v"},{"x":228,"y":2.6,"s":"v"},{"x":231,"y":1.4,"s":"v"},{"x":234,"y":0.3,"s":"v"},{"x":237,"y":6.5,"s":"v"},{"x":240,"y":1.7,"s":"v"},{"x":243,"y":0.7,"s":"v"},{"x":246,"y":3.0,"s":"v"},{"x":249,"y":0.4,"s":"v"},{"x":252,"y":1.2,"s":"v"},{"x":255,"y":7.0,"s":"v"},{"x":258,"y":2.0,"s":"v"},{"x":261,"y":0.6,"s":"v"},{"x":264,"y":1.5,"s":"v"},{"x":267,"y":0.9,"s":"v"},{"x":270,"y":3.8,"s":"v"},{"x":273,"y":0.09,"s":"v"},{"x":276,"y":1.1,"s":"v"},{"x":279,"y":0.5,"s":"v"},{"x":282,"y":2.4,"s":"v"},{"x":285,"y":0.8,"s":"v"},{"x":288,"y":0.17,"s":"v"},{"x":291,"y":1.9,"s":"v"},{"x":294,"y":0.4,"s":"v"},{"x":297,"y":3.2,"s":"v"},{"x":300,"y":0.7,"s":"v"},{"x":303,"y":1.4,"s":"v"},{"x":306,"y":2.6,"s":"v"},{"x":309,"y":0.15,"s":"v"},{"x":312,"y":0.45,"s":"v"},{"x":315,"y":1.8,"s":"v"},{"x":318,"y":0.6,"s":"v"},{"x":321,"y":3.5,"s":"v"},{"x":324,"y":2.0,"s":"v"},{"x":327,"y":0.3,"s":"v"},{"x":330,"y":4.2,"s":"v"},{"x":333,"y":1.0,"s":"v"},{"x":336,"y":2.8,"s":"v"},{"x":339,"y":0.5,"s":"v"},{"x":342,"y":3.6,"s":"v"},{"x":345,"y":1.6,"s":"v"},{"x":348,"y":5.0,"s":"v"},{"x":351,"y":2.3,"s":"v"},{"x":354,"y":0.8,"s":"v"},{"x":357,"y":4.0,"s":"v"},{"x":360,"y":2.9,"s":"v"},{"x":363,"y":6.0,"s":"v"},{"x":366,"y":3.3,"s":"v"},{"x":369,"y":1.5,"s":"v"},{"x":372,"y":4.8,"s":"v"},{"x":375,"y":7.5,"s":"v"},{"x":378,"y":3.9,"s":"v"},{"x":381,"y":5.5,"s":"v"},{"x":384,"y":0.2,"s":"v"},{"x":387,"y":6.8,"s":"v"},{"x":389,"y":0.022,"s":"v"},
{"x":1,"y":3.5,"s":"v"},{"x":4,"y":1.2,"s":"v"},{"x":7,"y":5.5,"s":"v"},{"x":10,"y":2.8,"s":"v"},{"x":13,"y":4.5,"s":"v"},{"x":16,"y":1.9,"s":"v"},{"x":19,"y":3.8,"s":"v"},{"x":22,"y":6.0,"s":"v"},{"x":25,"y":2.5,"s":"v"},{"x":28,"y":4.0,"s":"v"},{"x":31,"y":3.0,"s":"v"},{"x":34,"y":5.2,"s":"v"},{"x":37,"y":2.0,"s":"v"},{"x":40,"y":3.4,"s":"v"},{"x":43,"y":4.8,"s":"v"},{"x":46,"y":2.6,"s":"v"},{"x":49,"y":6.5,"s":"v"},{"x":52,"y":3.6,"s":"v"},{"x":55,"y":4.2,"s":"v"},{"x":58,"y":2.2,"s":"v"},{"x":61,"y":5.0,"s":"v"},{"x":64,"y":3.0,"s":"v"},{"x":67,"y":3.8,"s":"v"},{"x":70,"y":2.4,"s":"v"},{"x":73,"y":4.6,"s":"v"},{"x":76,"y":3.2,"s":"v"},{"x":79,"y":1.8,"s":"v"},{"x":82,"y":3.9,"s":"v"},{"x":85,"y":5.5,"s":"v"},{"x":88,"y":2.3,"s":"v"},{"x":91,"y":3.4,"s":"v"},{"x":94,"y":4.2,"s":"v"},{"x":97,"y":2.7,"s":"v"},{"x":100,"y":3.6,"s":"v"},{"x":104,"y":1.6,"s":"v"},{"x":110,"y":2.4,"s":"v"},{"x":116,"y":1.4,"s":"v"},{"x":122,"y":2.0,"s":"v"},{"x":128,"y":0.8,"s":"v"},{"x":134,"y":1.8,"s":"v"},{"x":140,"y":2.8,"s":"v"},{"x":146,"y":1.2,"s":"v"},{"x":152,"y":0.6,"s":"v"},{"x":158,"y":1.9,"s":"v"},{"x":164,"y":3.4,"s":"v"},{"x":170,"y":0.9,"s":"v"},{"x":176,"y":2.2,"s":"v"},{"x":182,"y":1.5,"s":"v"},{"x":188,"y":0.7,"s":"v"},{"x":194,"y":2.5,"s":"v"},{"x":200,"y":1.3,"s":"v"},{"x":206,"y":0.5,"s":"v"},{"x":212,"y":1.7,"s":"v"},{"x":218,"y":2.6,"s":"v"},{"x":224,"y":0.8,"s":"v"},{"x":230,"y":1.9,"s":"v"},{"x":236,"y":0.6,"s":"v"},{"x":242,"y":1.4,"s":"v"},{"x":248,"y":2.8,"s":"v"},{"x":254,"y":0.7,"s":"v"},{"x":260,"y":1.1,"s":"v"},{"x":266,"y":2.2,"s":"v"},{"x":272,"y":0.5,"s":"v"},{"x":278,"y":1.6,"s":"v"},{"x":284,"y":0.4,"s":"v"},{"x":290,"y":0.9,"s":"v"},{"x":296,"y":1.3,"s":"v"},{"x":302,"y":0.35,"s":"v"},{"x":308,"y":2.0,"s":"v"},{"x":314,"y":0.8,"s":"v"},{"x":320,"y":1.2,"s":"v"},{"x":326,"y":2.4,"s":"v"},{"x":332,"y":0.6,"s":"v"},{"x":338,"y":1.5,"s":"v"},{"x":344,"y":2.6,"s":"v"},{"x":350,"y":1.0,"s":"v"},{"x":356,"y":3.0,"s":"v"},{"x":362,"y":1.8,"s":"v"},{"x":368,"y":4.2,"s":"v"},{"x":374,"y":2.4,"s":"v"},{"x":380,"y":3.6,"s":"v"},{"x":386,"y":4.6,"s":"v"},
{"x":390,"y":6.3,"s":"f"},{"x":400,"y":6.3,"s":"f"},{"x":410,"y":6.3,"s":"f"},{"x":420,"y":6.3,"s":"f"},{"x":430,"y":6.3,"s":"f"},{"x":440,"y":6.4,"s":"f"},{"x":450,"y":7.5,"s":"f"},{"x":460,"y":7.5,"s":"f"},{"x":490,"y":6.3,"s":"f"},{"x":500,"y":6.3,"s":"f"},{"x":510,"y":6.3,"s":"f"},{"x":520,"y":6.3,"s":"f"},{"x":530,"y":6.3,"s":"f"},{"x":540,"y":6.3,"s":"f"},{"x":550,"y":6.3,"s":"f"},{"x":560,"y":6.3,"s":"f"},{"x":570,"y":6.3,"s":"f"},{"x":580,"y":6.3,"s":"f"},{"x":590,"y":6.3,"s":"f"},{"x":600,"y":6.3,"s":"f"},{"x":610,"y":6.3,"s":"f"},{"x":620,"y":6.3,"s":"f"},{"x":630,"y":6.3,"s":"f"},{"x":640,"y":6.3,"s":"f"},{"x":650,"y":6.3,"s":"f"},{"x":660,"y":6.3,"s":"f"},{"x":670,"y":6.3,"s":"f"},{"x":680,"y":6.3,"s":"f"},{"x":690,"y":6.4,"s":"f"},{"x":700,"y":7.5,"s":"f"},{"x":710,"y":7.5,"s":"f"},{"x":750,"y":6.3,"s":"f"},{"x":760,"y":6.3,"s":"f"},{"x":770,"y":6.3,"s":"f"},{"x":780,"y":6.3,"s":"f"},{"x":790,"y":6.3,"s":"f"},{"x":800,"y":6.3,"s":"f"},{"x":810,"y":6.3,"s":"f"},{"x":820,"y":6.3,"s":"f"},{"x":830,"y":6.3,"s":"f"},{"x":840,"y":6.4,"s":"f"},{"x":850,"y":7.5,"s":"f"},{"x":890,"y":6.3,"s":"f"},{"x":900,"y":6.3,"s":"f"},{"x":910,"y":6.3,"s":"f"},{"x":920,"y":6.3,"s":"f"},{"x":930,"y":6.3,"s":"f"},{"x":940,"y":6.3,"s":"f"},{"x":950,"y":6.3,"s":"f"},{"x":960,"y":6.3,"s":"f"},{"x":970,"y":6.3,"s":"f"},{"x":980,"y":6.3,"s":"f"},{"x":990,"y":6.3,"s":"f"},{"x":1000,"y":6.3,"s":"f"},{"x":1010,"y":6.3,"s":"f"},{"x":1020,"y":6.3,"s":"f"},{"x":1030,"y":6.3,"s":"f"},{"x":1040,"y":6.3,"s":"f"},{"x":1050,"y":6.3,"s":"f"},{"x":1060,"y":6.3,"s":"f"},{"x":1070,"y":6.3,"s":"f"},{"x":1080,"y":6.3,"s":"f"},{"x":1090,"y":6.4,"s":"f"},{"x":1100,"y":7.5,"s":"f"},{"x":1110,"y":7.5,"s":"f"},{"x":1150,"y":6.3,"s":"f"},{"x":1160,"y":6.3,"s":"f"},{"x":1170,"y":6.3,"s":"f"},{"x":1180,"y":6.3,"s":"f"},{"x":1190,"y":6.3,"s":"f"},{"x":1198,"y":6.3,"s":"f"},
{"x":462,"y":70,"s":"f"},{"x":464,"y":55,"s":"f"},{"x":465,"y":61,"s":"f"},{"x":468,"y":50,"s":"f"},{"x":469,"y":45,"s":"f"},{"x":470,"y":40,"s":"f"},{"x":472,"y":33,"s":"f"},{"x":473,"y":30,"s":"f"},{"x":475,"y":26,"s":"f"},{"x":478,"y":20,"s":"f"},{"x":480,"y":11.3,"s":"f"},{"x":483,"y":9.2,"s":"f"},{"x":477,"y":4.5,"s":"f"},{"x":475,"y":1.6,"s":"f"},
{"x":714,"y":95,"s":"f"},{"x":718,"y":87,"s":"f"},{"x":720,"y":80,"s":"f"},{"x":722,"y":70,"s":"f"},{"x":724,"y":64,"s":"f"},{"x":726,"y":57,"s":"f"},{"x":728,"y":52,"s":"f"},{"x":730,"y":46,"s":"f"},{"x":734,"y":35,"s":"f"},{"x":736,"y":30,"s":"f"},{"x":738,"y":26,"s":"f"},{"x":742,"y":19,"s":"f"},{"x":746,"y":9.9,"s":"f"},{"x":750,"y":8.6,"s":"f"},
{"x":856,"y":95,"s":"f"},{"x":860,"y":87,"s":"f"},{"x":862,"y":80,"s":"f"},{"x":864,"y":70,"s":"f"},{"x":868,"y":53,"s":"f"},{"x":870,"y":60,"s":"f"},{"x":872,"y":40,"s":"f"},{"x":876,"y":30,"s":"f"},{"x":878,"y":25,"s":"f"},{"x":880,"y":20,"s":"f"},{"x":884,"y":11.3,"s":"f"},{"x":888,"y":9.2,"s":"f"},
{"x":1114,"y":87,"s":"f"},{"x":1118,"y":70,"s":"f"},{"x":1120,"y":75,"s":"f"},{"x":1122,"y":61,"s":"f"},{"x":1126,"y":50,"s":"f"},{"x":1128,"y":45,"s":"f"},{"x":1130,"y":40,"s":"f"},{"x":1134,"y":30,"s":"f"},{"x":1136,"y":33,"s":"f"},{"x":1138,"y":21,"s":"f"},{"x":1142,"y":14,"s":"f"},{"x":1146,"y":10.5,"s":"f"}
],
"e":[
{"x":0,"y":0,"s":"v"},{"x":10,"y":0,"s":"v"},{"x":20,"y":0,"s":"v"},{"x":30,"y":0,"s":"v"},{"x":40,"y":0,"s":"v"},{"x":50,"y":0,"s":"v"},{"x":60,"y":0,"s":"v"},{"x":70,"y":0,"s":"v"},{"x":80,"y":0,"s":"v"},{"x":90,"y":0,"s":"v"},{"x":100,"y":0,"s":"v"},{"x":110,"y":0,"s":"v"},{"x":120,"y":0,"s":"v"},{"x":130,"y":0,"s":"v"},{"x":140,"y":0,"s":"v"},{"x":150,"y":0,"s":"v"},{"x":160,"y":0,"s":"v"},{"x":170,"y":0,"s":"v"},{"x":180,"y":0,"s":"v"},{"x":190,"y":0,"s":"v"},{"x":200,"y":0,"s":"v"},{"x":210,"y":0,"s":"v"},{"x":220,"y":0,"s":"v"},{"x":230,"y":0,"s":"v"},{"x":240,"y":0,"s":"v"},{"x":250,"y":0,"s":"v"},{"x":260,"y":0,"s":"v"},{"x":270,"y":0,"s":"v"},{"x":280,"y":0,"s":"v"},{"x":290,"y":0,"s":"v"},{"x":300,"y":0,"s":"v"},{"x":310,"y":0,"s":"v"},{"x":320,"y":0,"s":"v"},{"x":330,"y":0,"s":"v"},{"x":340,"y":0,"s":"v"},{"x":350,"y":0,"s":"v"},{"x":360,"y":0,"s":"v"},{"x":370,"y":0,"s":"v"},{"x":380,"y":0,"s":"v"},{"x":390,"y":0,"s":"v"},{"x":398,"y":0,"s":"v"},{"x":50,"y":1,"s":"v"},{"x":250,"y":1,"s":"v"},
{"x":400,"y":1,"s":"f"},{"x":410,"y":1,"s":"f"},{"x":420,"y":1,"s":"f"},{"x":430,"y":1,"s":"f"},{"x":440,"y":1,"s":"f"},{"x":450,"y":1,"s":"f"},{"x":460,"y":1,"s":"f"},{"x":470,"y":1,"s":"f"},{"x":480,"y":1,"s":"f"},{"x":490,"y":1,"s":"f"},{"x":500,"y":1,"s":"f"},{"x":510,"y":1,"s":"f"},{"x":520,"y":1,"s":"f"},{"x":530,"y":1,"s":"f"},{"x":540,"y":1,"s":"f"},{"x":550,"y":1,"s":"f"},{"x":560,"y":1,"s":"f"},{"x":570,"y":1,"s":"f"},{"x":580,"y":1,"s":"f"},{"x":590,"y":1,"s":"f"},{"x":600,"y":1,"s":"f"},{"x":610,"y":1,"s":"f"},{"x":620,"y":1,"s":"f"},{"x":630,"y":1,"s":"f"},{"x":640,"y":1,"s":"f"},{"x":650,"y":1,"s":"f"},{"x":660,"y":1,"s":"f"},{"x":670,"y":1,"s":"f"},{"x":680,"y":1,"s":"f"},{"x":690,"y":1,"s":"f"},{"x":700,"y":1,"s":"f"},{"x":710,"y":1,"s":"f"},{"x":720,"y":1,"s":"f"},{"x":730,"y":1,"s":"f"},{"x":740,"y":1,"s":"f"},{"x":750,"y":1,"s":"f"},{"x":760,"y":1,"s":"f"},{"x":770,"y":1,"s":"f"},{"x":780,"y":1,"s":"f"},{"x":790,"y":1,"s":"f"},{"x":800,"y":1,"s":"f"},{"x":810,"y":1,"s":"f"},{"x":820,"y":1,"s":"f"},{"x":830,"y":1,"s":"f"},{"x":840,"y":1,"s":"f"},{"x":850,"y":1,"s":"f"},{"x":860,"y":1,"s":"f"},{"x":870,"y":1,"s":"f"},{"x":880,"y":1,"s":"f"},{"x":890,"y":1,"s":"f"},{"x":900,"y":1,"s":"f"},{"x":910,"y":1,"s":"f"},{"x":920,"y":1,"s":"f"},{"x":930,"y":1,"s":"f"},{"x":940,"y":1,"s":"f"},{"x":950,"y":1,"s":"f"},{"x":960,"y":1,"s":"f"},{"x":970,"y":1,"s":"f"},{"x":980,"y":1,"s":"f"},{"x":990,"y":1,"s":"f"},{"x":1000,"y":1,"s":"f"},{"x":1010,"y":1,"s":"f"},{"x":1020,"y":1,"s":"f"},{"x":1030,"y":1,"s":"f"},{"x":1040,"y":1,"s":"f"},{"x":1050,"y":1,"s":"f"},{"x":1060,"y":1,"s":"f"},{"x":1070,"y":1,"s":"f"},{"x":1080,"y":1,"s":"f"},{"x":1090,"y":1,"s":"f"},{"x":1100,"y":1,"s":"f"},{"x":1110,"y":1,"s":"f"},{"x":1120,"y":1,"s":"f"},{"x":1130,"y":1,"s":"f"},{"x":1140,"y":1,"s":"f"},{"x":1150,"y":1,"s":"f"},{"x":1160,"y":1,"s":"f"},{"x":1170,"y":1,"s":"f"},{"x":1180,"y":1,"s":"f"},{"x":1190,"y":1,"s":"f"},
{"x":470,"y":0,"s":"f"},{"x":722,"y":0,"s":"f"},{"x":728,"y":0,"s":"f"},{"x":866,"y":0,"s":"f"},{"x":872,"y":0,"s":"f"},{"x":1122,"y":0,"s":"f"},{"x":1128,"y":0,"s":"f"}
]
},
"vconcat":[
{"hconcat":[
 {"width":249,"height":224,"title":{"text":"（a）SPE-PCA"},"data":{"name":"a"},
  "encoding":{"y":{"field":"y","type":"quantitative","scale":{"type":"log","domain":[0.398,5.25],"nice":false},"axis":{"values":[1],"title":"SPE","titleFont":"Liberation Serif","titleFontWeight":"normal","titleFontSize":11,"titlePadding":12,"labelExpr":"'10' + (round(log(datum.value)/LN10)==2?'²':round(log(datum.value)/LN10)==1?'¹':round(log(datum.value)/LN10)==0?'⁰':round(log(datum.value)/LN10)==-1?'⁻¹':round(log(datum.value)/LN10)==-2?'⁻²':'⁻³')"}}},
  "layer":[
   {"mark":{"type":"point","filled":false,"clip":true,"size":24,"strokeWidth":1.1},
    "encoding":{"x":{"field":"x","type":"quantitative","scale":{"domain":[0,1200],"nice":false},"axis":{"values":[0,200,400,600,800,1000,1200],"title":"样本","labelExpr":"datum.value==1000?'1 000':datum.value==1200?'1 200':datum.label"}},
     "shape":{"field":"s","type":"nominal","scale":{"domain":["v","f","L"],"range":["M-1,0L1,0M0,-1L0,1M-0.7,-0.7L0.7,0.7M-0.7,0.7L0.7,-0.7","circle","M-1.3,-0.18L1.3,-0.18L1.3,0.18L-1.3,0.18Z"]},"legend":{"title":null,"strokeColor":"black","fillColor":"white","labelExpr":"datum.label=='v'?'校验数据':datum.label=='f'?'故障数据':'99%控制限'"}},
     "color":{"field":"s","type":"nominal","scale":{"domain":["f","v"],"range":["#555","#222"]},"legend":null}}},
   {"data":{"values":[{"y":2.19}]},"mark":{"type":"rule","strokeDash":[10,6],"strokeWidth":2.5,"color":"#333"},"encoding":{}}
  ]},
 {"width":249,"height":224,"title":{"text":"（b）T²-PCA"},"data":{"name":"b"},
  "encoding":{"y":{"field":"y","type":"quantitative","scale":{"type":"log","domain":[0.1,100],"nice":false},"axis":{"values":[0.1,1,10,100],"title":"T²","titleFont":"Liberation Serif","titleFontWeight":"normal","titleFontSize":11,"titlePadding":10,"labelExpr":"'10' + (round(log(datum.value)/LN10)==2?'²':round(log(datum.value)/LN10)==1?'¹':round(log(datum.value)/LN10)==0?'⁰':round(log(datum.value)/LN10)==-1?'⁻¹':round(log(datum.value)/LN10)==-2?'⁻²':'⁻³')"}}},
  "layer":[
   {"mark":{"type":"point","filled":false,"clip":true,"size":24,"strokeWidth":1.1},
    "encoding":{"x":{"field":"x","type":"quantitative","scale":{"domain":[0,1200],"nice":false},"axis":{"values":[0,200,400,600,800,1000,1200],"title":"样本","labelExpr":"datum.value==1000?'1 000':datum.value==1200?'1 200':datum.label"}},
     "shape":{"field":"s","type":"nominal","scale":{"domain":["v","f","L"],"range":["M-1,0L1,0M0,-1L0,1M-0.7,-0.7L0.7,0.7M-0.7,0.7L0.7,-0.7","circle","M-1.3,-0.18L1.3,-0.18L1.3,0.18L-1.3,0.18Z"]},"legend":{"title":null,"strokeColor":"black","fillColor":"white","labelExpr":"datum.label=='v'?'校验数据':datum.label=='f'?'故障数据':'99%控制限'"}},
     "color":{"field":"s","type":"nominal","scale":{"domain":["f","v"],"range":["#555","#222"]},"legend":null}}},
   {"data":{"values":[{"y":7.6}]},"mark":{"type":"rule","strokeDash":[10,6],"strokeWidth":2.5,"color":"#333"},"encoding":{}}
  ]}
 ],"spacing":28,"resolve":{"scale":{"shape":"independent","color":"independent"},"legend":{"shape":"independent"}}},
{"hconcat":[
 {"width":248,"height":221,"title":{"text":"（c）SPE-KPCA"},"data":{"name":"c"},
  "encoding":{"y":{"field":"y","type":"quantitative","scale":{"type":"log","domain":[0.001,1],"nice":false},"axis":{"values":[0.001,0.01,0.1,1],"title":"SPE","titleFont":"Liberation Serif","titleFontWeight":"normal","titleFontSize":11,"titlePadding":6,"labelExpr":"'10' + (round(log(datum.value)/LN10)==2?'²':round(log(datum.value)/LN10)==1?'¹':round(log(datum.value)/LN10)==0?'⁰':round(log(datum.value)/LN10)==-1?'⁻¹':round(log(datum.value)/LN10)==-2?'⁻²':'⁻³')"}}},
  "layer":[
   {"mark":{"type":"point","filled":false,"clip":true,"size":24,"strokeWidth":1.1},
    "encoding":{"x":{"field":"x","type":"quantitative","scale":{"domain":[0,1200],"nice":false},"axis":{"values":[0,200,400,600,800,1000,1200],"title":"样本","labelExpr":"datum.value==1000?'1 000':datum.value==1200?'1 200':datum.label"}},
     "shape":{"field":"s","type":"nominal","scale":{"domain":["v","f","L"],"range":["M-1,0L1,0M0,-1L0,1M-0.7,-0.7L0.7,0.7M-0.7,0.7L0.7,-0.7","circle","M-1.3,-0.18L1.3,-0.18L1.3,0.18L-1.3,0.18Z"]},"legend":{"title":null,"strokeColor":"black","fillColor":"white","labelExpr":"datum.label=='v'?'校验数据':datum.label=='f'?'故障数据':'99%控制限'"}},
     "color":{"field":"s","type":"nominal","scale":{"domain":["f","v"],"range":["#444","#222"]},"legend":null}}},
   {"data":{"values":[{"y":0.038}]},"mark":{"type":"rule","strokeDash":[10,6],"strokeWidth":2.5,"color":"#333"},"encoding":{}}
  ]},
 {"width":247,"height":222,"title":{"text":"（d）T²-KPCA"},"data":{"name":"d"},
  "encoding":{"y":{"field":"y","type":"quantitative","scale":{"type":"log","domain":[0.01,100],"nice":false},"axis":{"values":[0.01,0.1,1,10,100],"title":"T²","titleFont":"Liberation Serif","titleFontWeight":"normal","titleFontSize":11,"titlePadding":8,"labelExpr":"'10' + (round(log(datum.value)/LN10)==2?'²':round(log(datum.value)/LN10)==1?'¹':round(log(datum.value)/LN10)==0?'⁰':round(log(datum.value)/LN10)==-1?'⁻¹':round(log(datum.value)/LN10)==-2?'⁻²':'⁻³')"}}},
  "layer":[
   {"mark":{"type":"point","filled":false,"clip":true,"size":24,"strokeWidth":1.1},
    "encoding":{"x":{"field":"x","type":"quantitative","scale":{"domain":[0,1200],"nice":false},"axis":{"values":[0,200,400,600,800,1000,1200],"title":"样本","labelExpr":"datum.value==1000?'1 000':datum.value==1200?'1 200':datum.label"}},
     "shape":{"field":"s","type":"nominal","scale":{"domain":["v","f","L"],"range":["M-1,0L1,0M0,-1L0,1M-0.7,-0.7L0.7,0.7M-0.7,0.7L0.7,-0.7","circle","M-1.3,-0.18L1.3,-0.18L1.3,0.18L-1.3,0.18Z"]},"legend":{"title":null,"strokeColor":"black","fillColor":"white","labelExpr":"datum.label=='v'?'校验数据':datum.label=='f'?'故障数据':'99%控制限'"}},
     "color":{"field":"s","type":"nominal","scale":{"domain":["f","v"],"range":["#444","#222"]},"legend":null}}},
   {"data":{"values":[{"y":15.4}]},"mark":{"type":"rule","strokeDash":[10,6],"strokeWidth":2.5,"color":"#333"},"encoding":{}}
  ]}
 ],"spacing":31,"resolve":{"scale":{"shape":"independent","color":"independent"},"legend":{"shape":"independent"}}},
{"hconcat":[
 {"width":89,"height":10,"data":{"values":[]},"mark":{"type":"point","opacity":0},"view":{"stroke":null}},
 {"width":270,"height":242,"title":{"text":"（e）SVM"},"data":{"name":"e"},
 "mark":{"type":"point","filled":false,"clip":true,"size":24,"strokeWidth":1.3},
 "encoding":{
  "x":{"field":"x","type":"quantitative","scale":{"domain":[0,1200],"nice":false},"axis":{"values":[0,200,400,600,800,1000,1200],"title":"样本","labelExpr":"datum.value==1000?'1 000':datum.value==1200?'1 200':datum.label"}},
  "y":{"field":"y","type":"quantitative","scale":{"domain":[-0.5,1.5],"nice":false},"axis":{"values":[-0.5,0,0.5,1,1.5],"title":"数据类别","titlePadding":8,"labelExpr":"datum.value==0?'0':datum.value<0?'-0.5':format(datum.value,'.1f')"}},
  "shape":{"field":"s","type":"nominal","scale":{"domain":["v","f"],"range":["M-1,0L1,0M0,-1L0,1M-0.7,-0.7L0.7,0.7M-0.7,0.7L0.7,-0.7","circle"]},"legend":{"title":null,"strokeColor":"black","fillColor":"white","labelExpr":"datum.label=='v'?'校验数据':'故障数据'","symbolStrokeColor":"#777"}},
  "color":{"value":"#777"}}}
 ],"spacing":20,"resolve":{"scale":{"shape":"independent","color":"independent"},"legend":{"shape":"independent"}}}
],
"spacing":21,
"resolve":{"scale":{"shape":"independent","color":"independent"},"legend":{"shape":"independent"}}
}
